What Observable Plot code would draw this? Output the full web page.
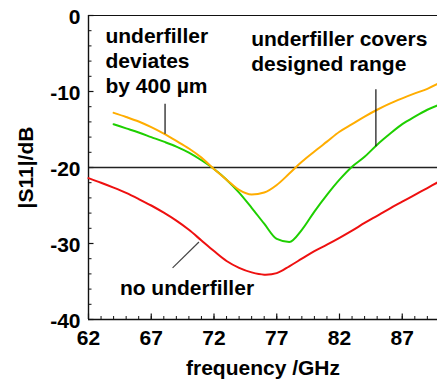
<!DOCTYPE html>
<html>
<head>
<meta charset="utf-8">
<script src="https://cdn.jsdelivr.net/npm/d3@7"></script>
<script src="https://cdn.jsdelivr.net/npm/@observablehq/plot@0.6"></script>
<style>
  html, body { margin: 0; padding: 0; background: #fff; }
</style>
</head>
<body>
<div id="chart"></div>
<script>
// Frequencies (GHz)
const freqShort = [64,65,66,67,68,69,70,71,72,73,74,75,76,77,78,79,80,81,82,83,84,85,86,87,88,89,90];
const freqLong  = [62,63,64,65,66,67,68,69,70,71,72,73,74,75,76,77,78,79,80,81,82,83,84,85,86,87,88,89,90];

// |S11| in dB
const deviates = [-12.8,-13.35,-13.95,-14.7,-15.55,-16.5,-17.5,-18.7,-20.2,-21.6,-22.95,-23.55,-23.3,-22.3,-20.8,-19.25,-17.9,-16.6,-15.3,-14.3,-13.3,-12.4,-11.6,-10.9,-10.25,-9.65,-8.85];
const covers   = [-14.3,-14.85,-15.4,-16.0,-16.6,-17.25,-18.05,-19.05,-20.2,-21.6,-23.3,-25.3,-27.4,-29.4,-29.8,-28.2,-25.8,-23.6,-21.6,-19.9,-18.6,-17.0,-15.6,-14.3,-13.3,-12.4,-11.7];
const noUnderfiller = [-21.4,-22.0,-22.65,-23.35,-24.15,-25.0,-25.95,-27.0,-28.2,-29.6,-31.0,-32.3,-33.2,-33.8,-34.1,-33.9,-33.0,-32.0,-31.0,-30.15,-29.25,-28.3,-27.3,-26.35,-25.4,-24.5,-23.6,-22.7,-21.8];

// Axis ticks
const xTicks = [62,67,72,77,82,87];
const xMinor = [62,63,64,65,66,67,68,69,70,71,72,73,74,75,76,77,78,79,80,81,82,83,84,85,86,87,88,89];
const yTicks = [0,-10,-20,-30,-40];
const yMinor = [0,-2,-4,-6,-8,-10,-12,-14,-16,-18,-20,-22,-24,-26,-28,-30,-32,-34,-36,-38,-40];
const refLevel = [-20];

// Annotations (text and leader lines, in data coordinates)
const labelTexts = ["underfiller\ndeviates\nby 400 µm", "underfiller covers\ndesigned range", "no underfiller"];
const labelX = [63.35, 74.96, 64.5];
const labelY = [-1.33, -1.72, -34.45];
const leaderX1 = [68.1, 84.9, 68.7];
const leaderY1 = [-11.6, -9.7, -33.2];
const leaderX2 = [68.1, 84.9, 70.8];
const leaderY2 = [-15.55, -17.2, -29.8];
const leaderColors = ["#111", "#111", "#444"];

const colOrange = "#ffad00", colGreen = "#1ecf00", colRed = "#ee1010";

const orangeData = freqShort.map((f, i) => ({f, v: deviates[i]}));
const greenData = freqShort.map((f, i) => ({f, v: covers[i]}));
const redData = freqLong.map((f, i) => ({f, v: noUnderfiller[i]}));
const labels = labelTexts.map((t, i) => ({t, x: labelX[i], y: labelY[i]}));
const leaders = leaderX1.map((x1, i) => ({x1, y1: leaderY1[i], x2: leaderX2[i], y2: leaderY2[i], c: leaderColors[i]}));

const W = 437, H = 381, mL = 88, mR = 0, mT = 15, mB = 62;
const frameW = W - mL - mR, frameH = H - mT - mB;

const chart = Plot.plot({
  width: W, height: H,
  marginLeft: mL, marginRight: mR, marginTop: mT, marginBottom: mB,
  style: {fontFamily: "'Liberation Sans', Arial, Helvetica, sans-serif", fontSize: "21px", fontWeight: "bold", background: "#fff", color: "#000", overflow: "hidden"},
  x: {domain: [62, 90], range: [mL, mL + 28 * 12.55]},
  y: {domain: [-40, 0], range: [H - mB, mT]},
  marks: [
    // tick marks (inward)
    Plot.ruleX(xMinor, {x: d => d, insetTop: frameH - 3, stroke: "#111", strokeWidth: 1}),
    Plot.ruleX(xTicks, {x: d => d, insetTop: frameH - 5.5, stroke: "#111", strokeWidth: 1.2}),
    Plot.ruleY(yMinor, {y: d => d, insetRight: frameW - 3.5, stroke: "#111", strokeWidth: 1}),
    Plot.ruleY(yTicks, {y: d => d, insetRight: frameW - 5.5, stroke: "#111", strokeWidth: 1.2}),
    // reference level
    Plot.ruleY(refLevel, {y: d => d, stroke: "#222", strokeWidth: 1.3}),
    // frame edges
    Plot.ruleY([0], {stroke: "#111", strokeWidth: 1.2}),
    Plot.ruleY([-40], {stroke: "#111", strokeWidth: 1.4}),
    Plot.ruleX([62], {stroke: "#111", strokeWidth: 1.4}),
    // curves
    Plot.line(redData, {x: "f", y: "v", stroke: colRed, strokeWidth: 2, curve: "catmull-rom"}),
    Plot.line(greenData, {x: "f", y: "v", stroke: colGreen, strokeWidth: 2, curve: "monotone-x"}),
    Plot.line(orangeData, {x: "f", y: "v", stroke: colOrange, strokeWidth: 2, curve: "monotone-x"}),
    // annotations
    Plot.link(leaders, {x1: "x1", y1: "y1", x2: "x2", y2: "y2", stroke: "c", strokeWidth: 1.2}),
    Plot.text(labels, {x: "x", y: "y", text: "t", textAnchor: "start", lineAnchor: "top", lineHeight: 1.19, fontSize: 21, fontWeight: "bold", fill: "#000"}),
    // axes
    Plot.axisX({ticks: xTicks, tickSize: 0, tickPadding: 11, tickFormat: d => String(d), fontSize: 21, fontWeight: "bold",
      label: "frequency /GHz", labelAnchor: "center", labelOffset: 55, labelArrow: "none"}),
    Plot.axisY({ticks: yTicks, tickSize: 0, tickPadding: 8, tickFormat: d => String(d), fontSize: 21, fontWeight: "bold", dy: 2,
      label: "|S11|/dB", labelAnchor: "center", labelOffset: 70, labelArrow: "none"})
  ]
});
document.getElementById("chart").appendChild(chart);
</script>
</body>
</html>
